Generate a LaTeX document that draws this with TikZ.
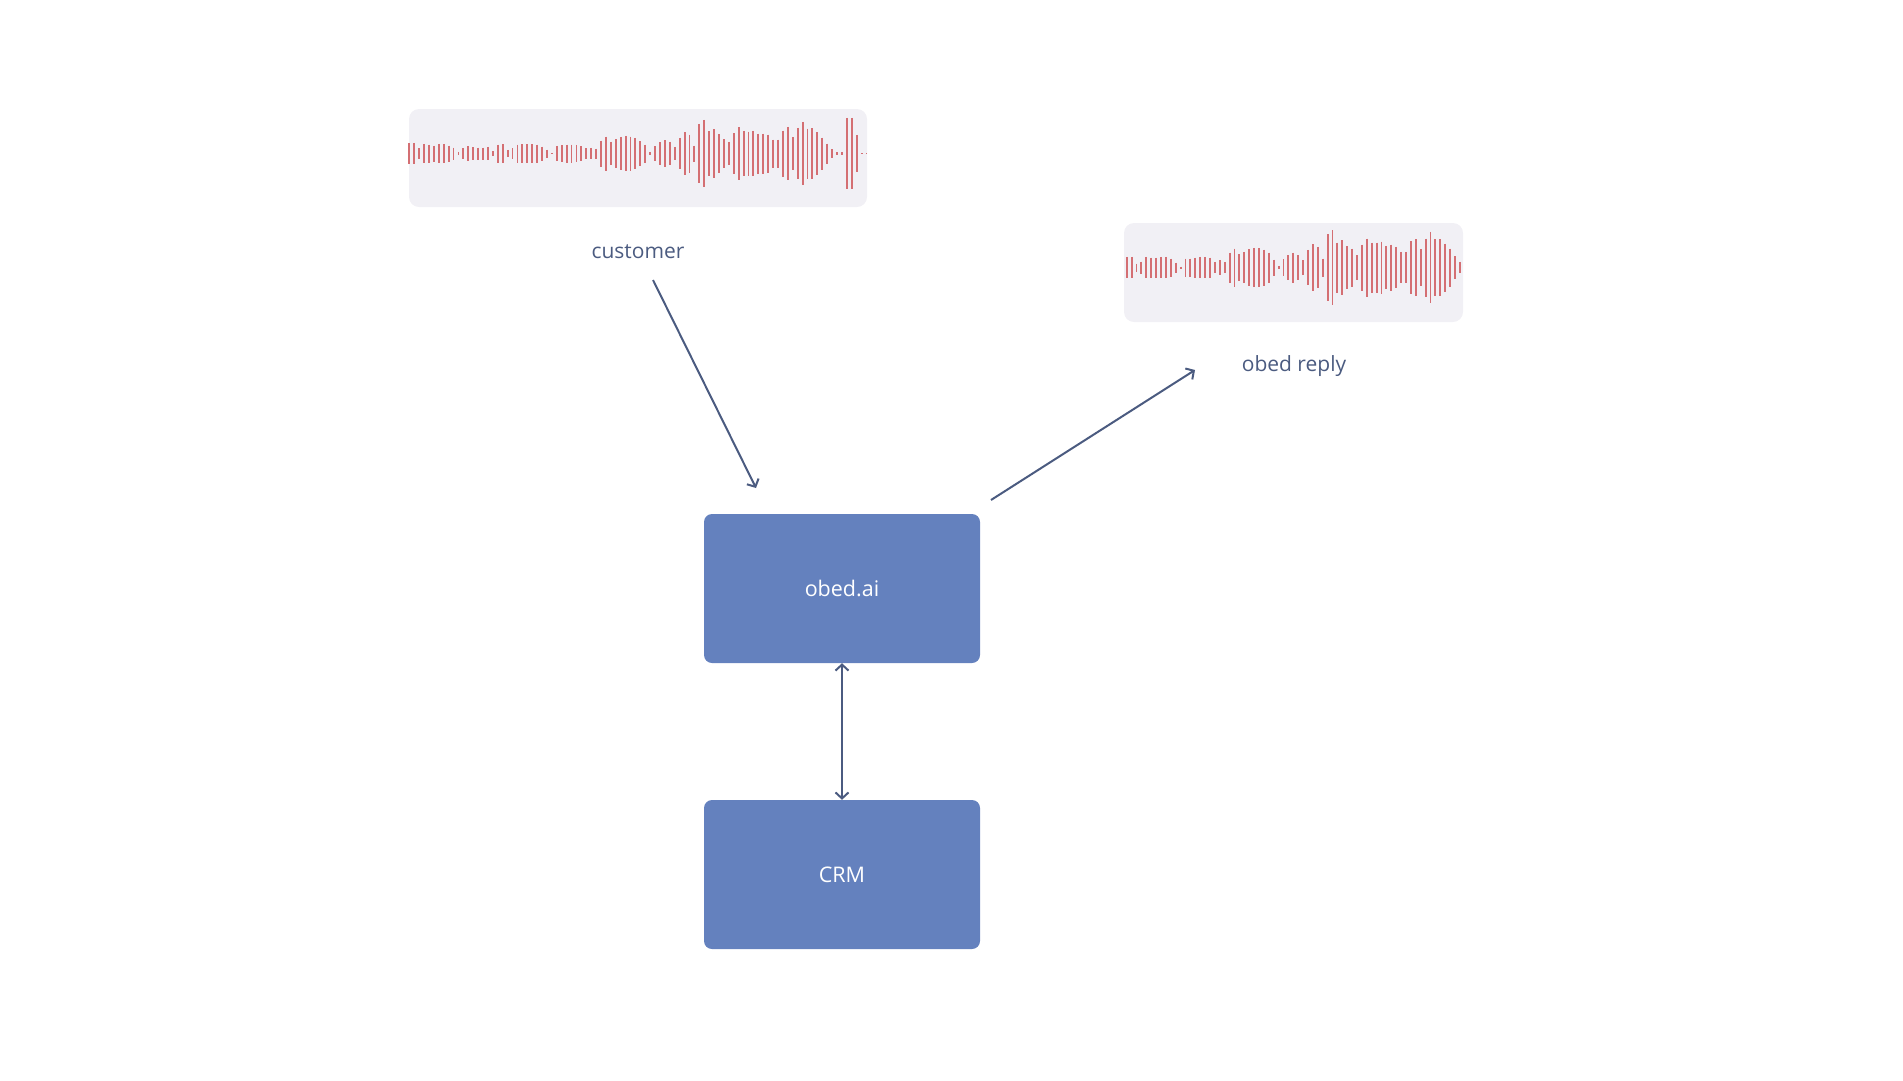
\documentclass[tikz,border=0pt]{standalone}
\usepackage{fontspec}
\setmainfont{Open Sans}
\usetikzlibrary{arrows.meta}
\definecolor{ink}{HTML}{4B5B80}
\definecolor{panelbg}{HTML}{F1F0F5}
\definecolor{barred}{HTML}{D46F73}
\definecolor{blockblue}{HTML}{6481BE}
\tikzset{
  panel/.style={fill=panelbg, draw=none, rounded corners=10pt, inner sep=0pt},
  wbar/.style={draw=barred, line width=1.9pt},
  lbl/.style={text=ink, inner sep=0pt, font=\fontsize{21}{24}\selectfont},
  block/.style={fill=blockblue, draw=none, rounded corners=8pt, minimum width=276pt, minimum height=149pt, inner sep=0pt, text=white, font=\fontsize{21.5}{24}\selectfont},
  conn/.style={draw=ink, line width=2pt, -{Straight Barb[length=6pt,width=13pt]}},
  conn2/.style={draw=ink, line width=2pt, {Straight Barb[length=6pt,width=13pt]}-{Straight Barb[length=6pt,width=13pt]}}
}
\begin{document}
\begin{tikzpicture}[x=1pt,y=-1pt]
\useasboundingbox (0,0) rectangle (1903,1080);
% waveform panels
\node[panel, minimum width=458pt, minimum height=98pt] (wave1) at (638,158) {};
\node[panel, minimum width=339pt, minimum height=99pt] (wave2) at (1293.5,272.5) {};
% customer waveform bars
\foreach \h [count=\i from 0] in {31,32,16,29,27,24,29,29,24,18,5,16,22,19,18,18,20,7,27,28,11,16,27,28,28,28,27,21,12,2,23,25,27,27,26,22,16,17,15,39,51,35,43,50,53,51,47,37,27,5,22,34,40,35,20,47,64,57,24,89,101,67,73,58,43,35,61,79,68,66,68,60,60,57,42,42,69,80,49,77,95,75,76,64,48,30,13,4,5,107,107,56,1,1}
  \draw[wbar] (409.3+4.916*\i, 153.5-\h/3) -- (409.3+4.916*\i, 153.5+\h/3);
% reply waveform bars
\foreach \h [count=\i from 0] in {32,32,12,18,32,30,30,32,32,27,15,3,27,27,30,32,32,30,17,22,17,45,57,40,47,55,59,58,54,45,24,5,25,37,45,37,22,53,70,62,27,100,112,75,82,64,57,37,69,87,75,75,78,65,69,62,47,47,79,85,55,87,107,85,85,72,57,34,17}
  \draw[wbar] (1126.7+4.9*\i, 267.5-\h/3) -- (1126.7+4.9*\i, 267.5+\h/3);
% labels
\node[lbl, anchor=base] (custlbl) at (638,258) {customer};
\node[lbl, anchor=base] (replylbl) at (1294,371) {obed reply};
% blocks
\node[block] (obed) at (842,588.5) {obed.ai};
\node[block] (crm) at (842,874.5) {CRM};
% connector end points
\coordinate (cs) at (653,280);
\coordinate (ce) at (756,488);
\coordinate (rs) at (991,500);
\coordinate (re) at (1195,370);
\draw[conn] (cs) -- (ce);
\draw[conn] (rs) -- (re);
\draw[conn2] (obed.south) -- (crm.north);
\end{tikzpicture}
\end{document}
